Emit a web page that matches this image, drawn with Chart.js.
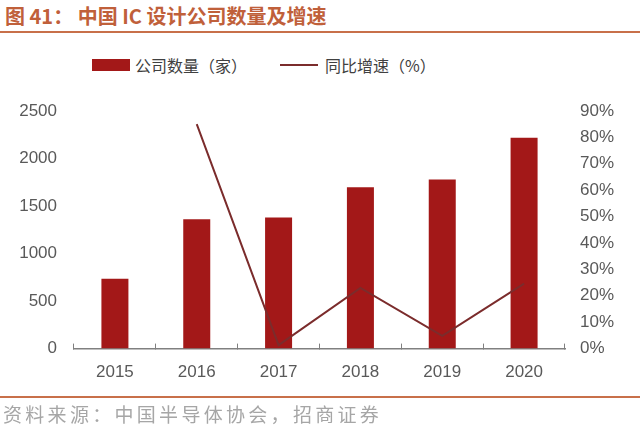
<!DOCTYPE html>
<html>
<head>
<meta charset="utf-8">
<script src="https://cdn.jsdelivr.net/npm/chart.js@4.4.0/dist/chart.umd.min.js"></script>
<style>
  html, body { margin: 0; padding: 0; background: #fff; }
  #wrap { position: relative; width: 640px; height: 431px; overflow: hidden; }
  #chart { position: absolute; left: 0; top: 0; }
  .title { position: absolute; left: 5px; top: 1px; font: bold 20px "Noto Sans CJK SC", sans-serif; color: #c0603a; white-space: nowrap; }
  .rule { position: absolute; left: 0; width: 640px; height: 2px; background: #c8704a; }
  .leg { position: absolute; font: 16px "Noto Sans CJK SC", sans-serif; color: #404040; white-space: nowrap; }
  .source { position: absolute; left: 3px; top: 400px; font: 19px "Noto Sans CJK SC", sans-serif; color: #a6a6a6; letter-spacing: 3.3px; white-space: nowrap; }
</style>
</head>
<body>
<div id="wrap">
  <div class="title">图 41：&nbsp;中国 IC 设计公司数量及增速</div>
  <div class="rule" style="top:31px"></div>
  <div style="position:absolute;left:92px;top:59px;width:38px;height:12px;background:#a31818"></div>
  <div class="leg" style="left:135px;top:53px">公司数量（家）</div>
  <div style="position:absolute;left:280px;top:64px;width:38px;height:2px;background:#7b2c2c"></div>
  <div class="leg" style="left:325px;top:53px">同比增速（%）</div>
  <canvas id="chart" width="640" height="431"></canvas>
  <div class="rule" style="top:396px"></div>
  <div class="source">资料来源：中国半导体协会，招商证券</div>
</div>
<script>
var years = ["2015", "2016", "2017", "2018", "2019", "2020"];
var companies = [736, 1362, 1380, 1698, 1780, 2218];
var growth = [null, 85.0, 1.3, 23.0, 4.8, 24.6];

var barColor = '#a31818';
var lineColor = '#7b2c2c';
var axisColor = '#808080';
var tickFont = { family: 'Liberation Sans, Arial, sans-serif', size: 17 };

var ctx = document.getElementById('chart');
var chart = new Chart(ctx, {
  data: {
    labels: years,
    datasets: [{
      type: 'line',
      label: '同比增速（%）',
      data: growth,
      yAxisID: 'y1',
      borderColor: lineColor,
      backgroundColor: lineColor,
      borderWidth: 2,
      pointRadius: 0,
      tension: 0
    }, {
      type: 'bar',
      label: '公司数量（家）',
      data: companies,
      yAxisID: 'y',
      backgroundColor: barColor,
      categoryPercentage: 1,
      barPercentage: 0.33
    }]
  },
  options: {
    responsive: false,
    animation: false,
    layout: {
      padding: { left: 0, right: 0, top: 111, bottom: 29 }
    },
    plugins: {
      legend: { display: false },
      title: { display: false },
      tooltip: { enabled: false }
    },
    scales: {
      x: {
        offset: true,
        grid: {
          offset: true,
          drawOnChartArea: false,
          color: axisColor,
          tickLength: -5
        },
        border: { color: axisColor, width: 1.5 },
        ticks: { color: '#595959', font: tickFont, padding: 19 }
      },
      y: {
        position: 'left',
        min: 0,
        max: 2500,
        afterFit: function(s){ s.width = 74; },
        ticks: {
          stepSize: 500,
          color: '#595959',
          font: tickFont,
          padding: 9,
          callback: function(v){ return String(v); }
        },
        grid: { display: false },
        border: { display: false }
      },
      y1: {
        position: 'right',
        min: 0,
        max: 90,
        afterFit: function(s){ s.width = 75; },
        ticks: {
          stepSize: 10,
          color: '#595959',
          font: tickFont,
          padding: 7,
          callback: function(v){ return v + '%'; }
        },
        grid: { display: false },
        border: { display: false }
      }
    }
  }
});
</script>
</body>
</html>
